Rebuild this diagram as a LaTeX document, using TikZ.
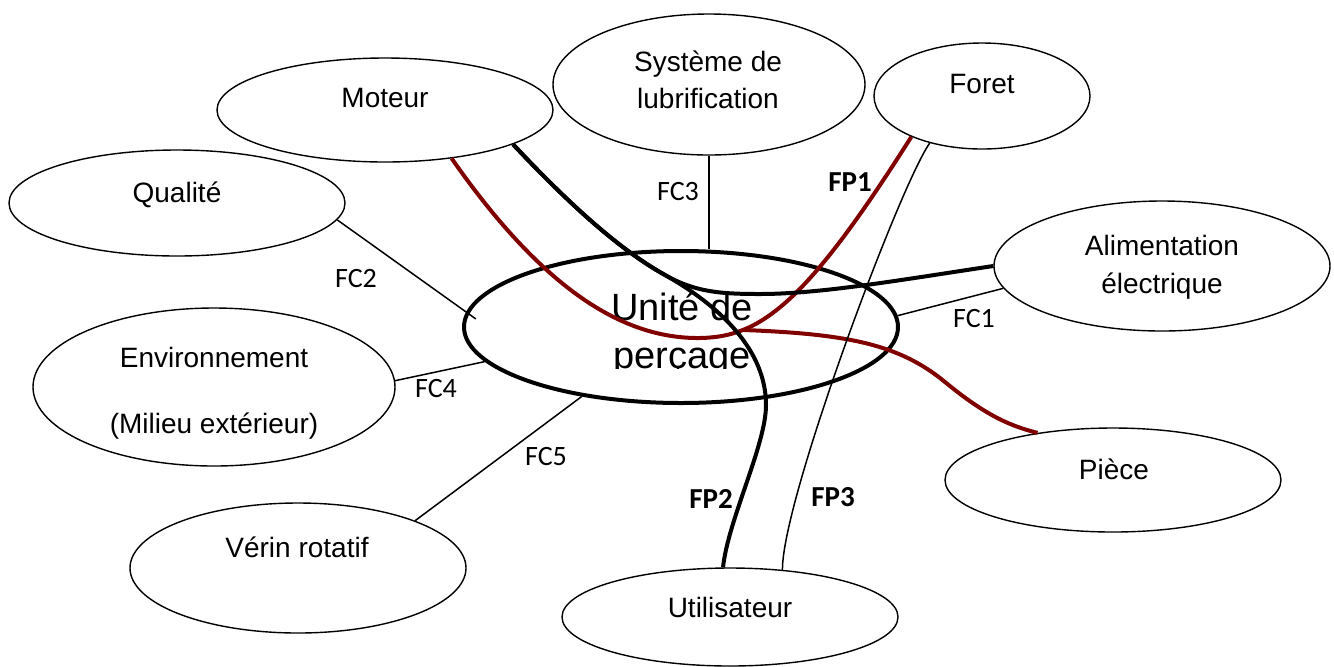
\documentclass[tikz,border=0pt]{standalone}
\usepackage{fontspec}
\setmainfont{Liberation Sans}
\newfontfamily\calibri{Carlito}
\usepackage{tikz}
\usetikzlibrary{calc}
\usetikzlibrary{shapes.geometric}
\definecolor{fpred}{RGB}{128,0,0}

\begin{document}
\begin{tikzpicture}[x=0.5pt, y=-0.5pt,
	bulle/.style={draw, ellipse, line width=0.7pt, inner sep=0pt},
	txt/.style={anchor=base, inner sep=0pt, font=\fontsize{14}{17}\selectfont},
	fc/.style={anchor=base, inner sep=0pt, font=\calibri\fontsize{14}{17}\selectfont},
	fp/.style={anchor=base, inner sep=0pt, font=\calibri\bfseries\fontsize{14.5}{17}\selectfont},
	fcline/.style={line width=0.75pt},
	fpblack/.style={line width=2pt},
	fpredline/.style={line width=2pt, draw=fpred}]
\useasboundingbox (0,0) rectangle (1334,666);

\node[bulle, minimum width=168pt, minimum height=52pt] (moteur) at (385,110) {};
\node[bulle, minimum width=168pt, minimum height=53pt] (qualite) at (177,203) {};
\node[bulle, minimum width=156pt, minimum height=70.5pt] (systeme) at (709,84.5) {};
\node[bulle, minimum width=108pt, minimum height=53pt] (foret) at (982,96) {};
\node[bulle, minimum width=168pt, minimum height=65pt] (alim) at (1162,266) {};
\node[bulle, minimum width=168pt, minimum height=52pt] (piece) at (1113,480) {};
\node[bulle, minimum width=181pt, minimum height=79pt] (env) at (214,387) {};
\node[bulle, minimum width=168pt, minimum height=65pt] (verin) at (298,568) {};
\node[bulle, minimum width=168pt, minimum height=49pt] (util) at (730,617) {};

\node[txt] (moteur-t) at ($(moteur)+(0,-3)$) {Moteur};
\node[txt] (qualite-t) at ($(qualite)+(0,-1)$) {Qualité};
\node[txt] (systeme-t1) at ($(systeme)+(-1,-13.5)$) {Système de};
\node[txt] (systeme-t2) at ($(systeme)+(-1,23.5)$) {lubrification};
\node[txt] (foret-t) at ($(foret)+(0,-3)$) {Foret};
\node[txt] (alim-t1) at ($(alim)+(0,-11)$) {Alimentation};
\node[txt] (alim-t2) at ($(alim)+(0,27)$) {électrique};
\node[txt] (piece-t) at ($(piece)+(1,-1)$) {Pièce};
\node[txt] (env-t1) at ($(env)+(0,-20)$) {Environnement};
\node[txt] (env-t2) at ($(env)+(0,46)$) {(Milieu extérieur)};
\node[txt] (verin-t) at ($(verin)+(-1,-11)$) {Vérin rotatif};
\node[txt] (util-t) at ($(util)+(0,0)$) {Utilisateur};

% texte central coupe par sa zone
\begin{scope}
	\clip (540,270) rectangle (830,368);
	\node[txt, font=\fontsize{19}{24}\selectfont] (unite-t1) at (682,320) {Unité de};
	\node[txt, font=\fontsize{19}{24}\selectfont] (unite-t2) at (682,368) {perçage};
\end{scope}
\node[bulle, line width=2pt, minimum width=217pt, minimum height=76pt] (unite) at (681,327) {};

\draw[fcline, shorten >=-6pt] (qualite.-6) -- (unite.176);
\draw[fcline] (env.2) -- (unite.190);
\draw[fcline] (verin.22) -- (unite.215);
\draw[fcline] (systeme.south) -- (systeme.south |- unite.north);
\draw[fcline] (unite.3) -- (alim.188);

\draw[fpredline] (moteur.-36) .. controls (540,285) and (620,339) .. (700,338) .. controls (760,337) and (805,305) .. (foret.-150);
\coordinate (jonction) at (744,330);
\draw[fpredline] (jonction) .. controls (850,334) and (900,345) .. (945,382) .. controls (985,415) and (1010,426) .. (piece.148);

\draw[fpblack] (moteur.-15) .. controls (570,205) and (620,250) .. (665,275) .. controls (695,292) and (720,294) .. (760,294) .. controls (820,294) and (900,280) .. (alim.180);
\draw[fpblack] (moteur.-15) .. controls (570,205) and (620,250) .. (665,275) .. controls (720,306) and (766,350) .. (766,405) .. controls (766,445) and (728,520) .. (util.98);
\draw[fcline] (foret.-138) .. controls (900,185) and (782,500) .. (util.42);

\node[fc] (fc1) at (974,327) {FC1};
\node[fc] (fc2) at (356,287) {FC2};
\node[fc] (fc3) at (678,200) {FC3};
\node[fc] (fc4) at (436,397) {FC4};
\node[fc] (fc5) at (546,465) {FC5};
\node[fp] (fp1) at (850,191) {FP1};
\node[fp] (fp2) at (711,508) {FP2};
\node[fp] (fp3) at (833,506) {FP3};
\end{tikzpicture}
\end{document}
